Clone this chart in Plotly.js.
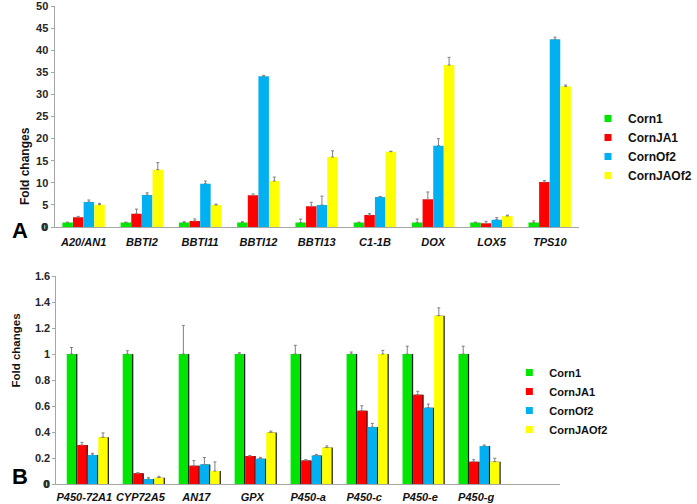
<!DOCTYPE html>
<html>
<head>
<meta charset="utf-8">
<script src="https://cdn.plot.ly/plotly-3.0.1.min.js"></script>
<style>
html,body{margin:0;padding:0;background:#fff;}
#chart{width:697px;height:504px;}
</style>
</head>
<body>
<div id="chart"></div>
<script>
// ---------- Data ----------
const seriesNames = ['Corn1', 'CornJA1', 'CornOf2', 'CornJAOf2'];

// Panel A
const catsA = ['A20/AN1', 'BBTI2', 'BBTI11', 'BBTI12', 'BBTI13', 'C1-1B', 'DOX', 'LOX5', 'TPS10'];
const corn1A      = [1, 1, 1, 1, 1, 1, 1, 1, 1];
const cornJA1A    = [2.2, 3.0, 1.36, 7.16, 4.68, 2.7, 6.26, 0.83, 10.18];
const cornOf2A    = [5.66, 7.24, 9.8, 34.1, 4.98, 6.79, 18.4, 1.66, 42.46];
const cornJAOf2A  = [5.05, 12.97, 4.98, 10.4, 15.84, 17.04, 36.65, 2.49, 31.82];
const corn1AErr     = [0.1, 0.1, 0.2, 0.2, 0.8, 0.1, 0.8, 0.1, 0.4];
const cornJA1AErr   = [0.2, 1.05, 0.45, 0.3, 0.9, 0.3, 1.66, 0.45, 0.35];
const cornOf2AErr   = [0.45, 0.5, 0.6, 0.2, 2.0, 0.1, 1.58, 0.45, 0.5];
const cornJAOf2AErr = [0.3, 1.6, 0.2, 0.9, 1.4, 0.1, 1.73, 0.2, 0.3];
const yTicksA = [0, 5, 10, 15, 20, 25, 30, 35, 40, 45, 50];

// Panel B
const catsB = ['P450-72A1', 'CYP72A5', 'AN17', 'GPX', 'P450-a', 'P450-c', 'P450-e', 'P450-g'];
const slotsB = 9; // one empty slot at the right end of the axis
const corn1B      = [1, 1, 1, 1, 1, 1, 1, 1];
const cornJA1B    = [0.30, 0.082, 0.14, 0.215, 0.18, 0.564, 0.687, 0.172];
const cornOf2B    = [0.223, 0.038, 0.15, 0.195, 0.22, 0.438, 0.587, 0.292];
const cornJAOf2B  = [0.36, 0.049, 0.1, 0.397, 0.28, 1.0, 1.295, 0.172];
const corn1BErr     = [0.05, 0.025, 0.22, 0.01, 0.067, 0.015, 0.06, 0.06];
const cornJA1BErr   = [0.02, 0.005, 0.04, 0.005, 0.008, 0.038, 0.026, 0.015];
const cornOf2BErr   = [0.013, 0.01, 0.054, 0.01, 0.008, 0.028, 0.028, 0.008];
const cornJAOf2BErr = [0.033, 0.01, 0.07, 0.01, 0.013, 0.028, 0.06, 0.026];
const yTicksB = [0, 0.2, 0.4, 0.6, 0.8, 1, 1.2, 1.4, 1.6];
const yTickTextB = ['0', '0.2', '0.4', '0.6', '0.8', '1', '1.2', '1.4', '1.6'];

// ---------- Style ----------
const colors = ['#00e600', '#ff0000', '#00b0f0', '#ffff00'];
const FONT = 'Liberation Sans, Arial, sans-serif';
const axisGrey = '#a6a6a6';

const seriesA = [corn1A, cornJA1A, cornOf2A, cornJAOf2A];
const errA = [corn1AErr, cornJA1AErr, cornOf2AErr, cornJAOf2AErr];
const seriesB = [corn1B, cornJA1B, cornOf2B, cornJAOf2B];
const errB = [corn1BErr, cornJA1BErr, cornOf2BErr, cornJAOf2BErr];

const xA = catsA.map((_, i) => i);
const xB = catsB.map((_, i) => i);
const boundsA = Array.from({length: catsA.length + 1}, (_, i) => i - 0.5);
const boundsB = Array.from({length: slotsB + 1}, (_, i) => i - 0.5);

function errObj(arr) {
  return {type: 'data', symmetric: false, array: arr, arrayminus: arr.map(() => 0),
          color: '#808080', thickness: 1, width: 1.5};
}

const traces = [];
// Panel A bars (no shadow)
const wA = 0.18, stepA = 0.1825, startA = -0.365;
seriesA.forEach((vals, i) => {
  traces.push({
    type: 'bar', x: xA, y: vals, xaxis: 'x', yaxis: 'y',
    offset: startA + i * stepA, width: wA,
    marker: {color: colors[i], line: {width: 0}},
    error_y: errObj(errA[i]), showlegend: false, hoverinfo: 'skip'
  });
});
// Panel B bars (with dark shadow on the right)
const wB = 0.168, stepB = 0.188, startB = -0.315, shB = 0.022;
seriesB.forEach((vals, i) => {
  traces.push({
    type: 'bar', x: xB, y: vals, xaxis: 'x2', yaxis: 'y2',
    offset: startB + i * stepB + shB, width: wB,
    marker: {color: '#1e1e1e', line: {width: 0}},
    showlegend: false, hoverinfo: 'skip'
  });
  traces.push({
    type: 'bar', x: xB, y: vals, xaxis: 'x2', yaxis: 'y2',
    offset: startB + i * stepB, width: wB,
    marker: {color: colors[i], line: {width: 0}},
    error_y: errObj(errB[i]), showlegend: false, hoverinfo: 'skip'
  });
});
// Legend entries (square markers)
seriesNames.forEach((n, i) => {
  traces.push({type: 'scatter', mode: 'markers', x: [null], y: [null], xaxis: 'x', yaxis: 'y',
    name: n, legend: 'legend', marker: {symbol: 'square', size: 7, color: colors[i]}});
  traces.push({type: 'scatter', mode: 'markers', x: [null], y: [null], xaxis: 'x2', yaxis: 'y2',
    name: n, legend: 'legend2', marker: {symbol: 'square', size: 7, color: colors[i]}});
});

const W = 697, H = 504;
const px = v => v / W, py = v => 1 - v / H;

const tickFont = {family: FONT, size: 11, color: '#262626', weight: 700};
const catFont = {family: FONT, size: 11, color: '#111', weight: 700, style: 'italic'};

const domYA = [py(227), py(6)];
const domYB = [py(484), py(276)];

const layout = {
  width: W, height: H,
  margin: {l: 0, r: 0, t: 0, b: 0},
  paper_bgcolor: '#fff', plot_bgcolor: '#fff',
  barmode: 'overlay',
  font: {family: FONT},
  xaxis: {domain: [px(58), px(616)], anchor: 'y', range: [-0.5, 8.5], tickmode: 'array',
          tickvals: xA, ticktext: catsA, ticks: '', showline: true, linecolor: axisGrey,
          linewidth: 1, showgrid: false, zeroline: false, tickfont: catFont, ticklabelstandoff: 5},
  xaxis3: {overlaying: 'x', anchor: 'y', range: [-0.5, 8.5], tickmode: 'array', tickvals: boundsA,
           ticks: 'outside', ticklen: 4, tickcolor: axisGrey, showticklabels: false,
           showline: false, showgrid: false, zeroline: false},
  yaxis: {domain: domYA, anchor: 'x', range: [0, 50], tickmode: 'array',
          tickvals: yTicksA, ticktext: yTicksA.map(String),
          ticks: 'outside', ticklabeloverflow: 'allow',
          ticklen: 3, tickcolor: axisGrey, showline: true, linecolor: axisGrey, linewidth: 1,
          showgrid: false, zeroline: false, tickfont: tickFont},
  xaxis2: {domain: [px(60), px(596)], anchor: 'y2', range: [-0.5, 8.5], tickmode: 'array',
           tickvals: xB, ticktext: catsB, ticks: '', showline: true, linecolor: axisGrey,
           linewidth: 1, showgrid: false, zeroline: false, tickfont: catFont, ticklabelstandoff: 3},
  xaxis4: {overlaying: 'x2', anchor: 'y2', range: [-0.5, 8.5], tickmode: 'array', tickvals: boundsB,
           ticks: 'outside', ticklen: 4, tickcolor: axisGrey, showticklabels: false,
           showline: false, showgrid: false, zeroline: false},
  yaxis2: {domain: domYB, anchor: 'x2', range: [0, 1.6], tickmode: 'array',
           tickvals: yTicksB, ticktext: yTickTextB,
           ticks: 'outside', ticklabeloverflow: 'allow',
           ticklen: 3, tickcolor: axisGrey, showline: true, linecolor: axisGrey, linewidth: 1,
           showgrid: false, zeroline: false, tickfont: tickFont},
  legend: {x: px(626), y: py(104), xanchor: 'left', yanchor: 'top', bgcolor: 'rgba(0,0,0,0)',
           font: {family: FONT, size: 12, color: '#111', weight: 700}, itemwidth: 30},
  legend2: {x: px(542), y: py(358), xanchor: 'left', yanchor: 'top', bgcolor: 'rgba(0,0,0,0)',
            font: {family: FONT, size: 11, color: '#111', weight: 700}, itemwidth: 30},
  annotations: [
    {text: 'Fold changes', textangle: -90, x: px(17), y: py(125), xref: 'paper', yref: 'paper',
     showarrow: false, font: {family: FONT, size: 12, color: '#111', weight: 700}},
    {text: 'Fold changes', textangle: -90, x: px(8), y: py(390), xref: 'paper', yref: 'paper',
     showarrow: false, font: {family: FONT, size: 11.5, color: '#111', weight: 700}},
    {text: 'A', x: px(11), y: py(231), xref: 'paper', yref: 'paper', showarrow: false,
     font: {family: FONT, size: 22, color: '#000', weight: 700}},
    {text: 'B', x: px(11), y: py(491), xref: 'paper', yref: 'paper', showarrow: false,
     font: {family: FONT, size: 22, color: '#000', weight: 700}},
    // "0" labels at the bottom of each y axis (the axis range starts at 0 = bottom of the domain)
    {text: String(yTicksA[0]), xref: 'paper', x: px(52), xanchor: 'right', yref: 'paper', y: domYA[0],
     yanchor: 'middle', showarrow: false, font: tickFont},
    {text: yTickTextB[0], xref: 'paper', x: px(54), xanchor: 'right', yref: 'paper', y: domYB[0],
     yanchor: 'middle', showarrow: false, font: tickFont}
  ]
};

Plotly.newPlot('chart', traces, layout, {displayModeBar: false});
</script>
</body>
</html>
